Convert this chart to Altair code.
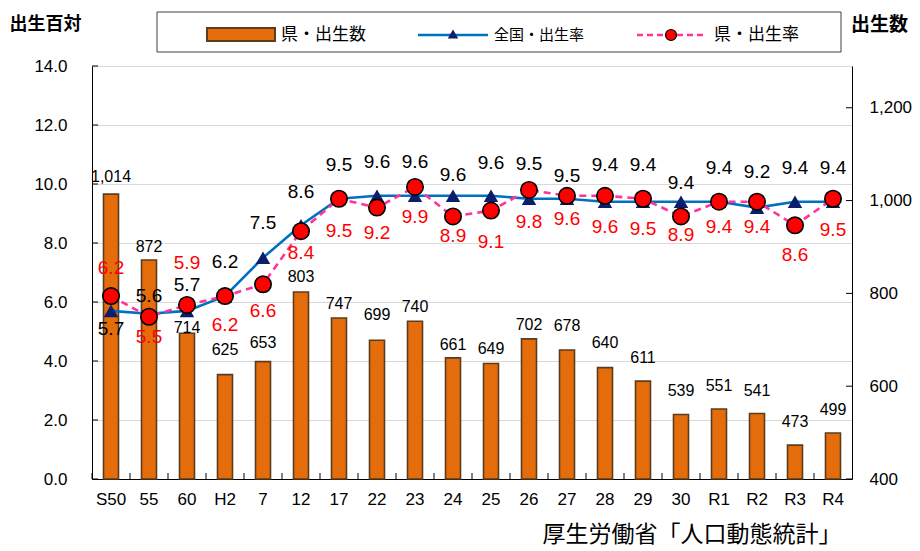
import altair as alt
import pandas as pd

# ---- data ----
categories = ["S50", "55", "60", "H2", "7", "12", "17", "22", "23", "24",
              "25", "26", "27", "28", "29", "30", "R1", "R2", "R3", "R4"]
births = [1014, 872, 714, 625, 653, 803, 747, 699, 740, 661,
          649, 702, 678, 640, 611, 539, 551, 541, 473, 499]
national_rate = [5.7, 5.6, 5.7, 6.2, 7.5, 8.6, 9.5, 9.6, 9.6, 9.6,
                 9.6, 9.5, 9.5, 9.4, 9.4, 9.4, 9.4, 9.2, 9.4, 9.4]
pref_rate = [6.2, 5.5, 5.9, 6.2, 6.6, 8.4, 9.5, 9.2, 9.9, 8.9,
             9.1, 9.8, 9.6, 9.6, 9.5, 8.9, 9.4, 9.4, 8.6, 9.5]

left_ticks = [0, 2, 4, 6, 8, 10, 12, 14]
right_ticks = [400, 600, 800, 1000, 1200]

# ---- label placement (pixel offsets of data labels, style only) ----
bar_label_dy = [-17, -13, -5, -25, -19, -15, -14, -25, -14, -13,
                -14, -14, -24, -25, -23, -23, -23, -23, -23, -23]
nat_label_dy = [18, -18, -26, -34, -35, -33, -34, -34, -34, -21,
                -33, -35, -23, -37, -37, -19, -34, -36, -34, -34]
pref_label_dy = [-28, 20, -42, 29, 27, 22, 32, 25, 30, 20,
                 31, 32, 23, 31, 30, 19, 25, 25, 30, 31]

W, H = 760, 413
L_DOM = [0, 14]
R_DOM = [400, 1290]

df = pd.DataFrame({
    "cat": categories,
    "births": births,
    "nat": national_rate,
    "pref": pref_rate,
    "bdy": bar_label_dy,
    "ndy": nat_label_dy,
    "pdy": pref_label_dy,
})
df["births_lbl"] = [f"{v:,}" for v in births]
df["nat_lbl"] = [f"{v:.1f}" for v in national_rate]
df["pref_lbl"] = [f"{v:.1f}" for v in pref_rate]

NUM_FONT = "Liberation Sans"
JP_FONT = "Noto Sans CJK JP"
ORANGE = "#E46C0A"
BAR_EDGE = "#5A3D20"
BLUE = "#0070C0"
NAVY = "#0B1E6B"
PINK = "#FF3399"
RED = "#FF0000"

l_unit = (L_DOM[1] - L_DOM[0]) / H
r_unit = (R_DOM[1] - R_DOM[0]) / H

base = alt.Chart(df).transform_calculate(
    b_ly=f"datum.births - datum.bdy * {r_unit}",
    n_ly=f"datum.nat - datum.ndy * {l_unit}",
    p_ly=f"datum.pref - datum.pdy * {l_unit}",
)

x_axis = alt.Axis(title=None, labelAngle=0, ticks=False, domainColor="black",
                  labelFont=NUM_FONT, labelFontSize=17, labelColor="black",
                  labelPadding=12)
X = alt.X("cat:N", sort=categories,
          scale=alt.Scale(paddingInner=0, paddingOuter=0), axis=x_axis)

r_scale = alt.Scale(domain=R_DOM, zero=False, nice=False)
r_axis = alt.Axis(orient="right", values=right_ticks, format=",.0f", grid=False,
                  ticks=False, domainColor="black",
                  labelFont=NUM_FONT, labelFontSize=17, labelColor="black",
                  labelPadding=17,
                  title="出生数", titleAngle=0, titleX=27, titleY=-42,
                  titleAlign="center", titleBaseline="middle",
                  titleFont=JP_FONT, titleFontSize=19, titleFontWeight="bold",
                  titleColor="black")
l_scale = alt.Scale(domain=L_DOM, nice=False)
l_axis = alt.Axis(orient="left", values=left_ticks, format=".1f", grid=True,
                  gridColor="#D9D9D9", ticks=False, domainColor="black",
                  labelFont=NUM_FONT, labelFontSize=17, labelColor="black",
                  labelPadding=25,
                  title="出生百対", titleAngle=0, titleX=-47, titleY=-42,
                  titleAlign="center", titleBaseline="middle",
                  titleFont=JP_FONT, titleFontSize=18, titleFontWeight="bold",
                  titleColor="black")


def RY(field):
    return alt.Y(field, type="quantitative", scale=r_scale, axis=r_axis)


def LY(field):
    return alt.Y(field, type="quantitative", scale=l_scale, axis=l_axis)


# ---- right axis layer: births bars ----
bars = base.mark_bar(size=15, color=ORANGE, stroke=BAR_EDGE, strokeWidth=1.6).encode(
    x=X, y=RY("births"), y2=alt.datum(400),
)
bar_labels = base.mark_text(font=NUM_FONT, fontSize=16, color="black", baseline="middle").encode(
    x=X, y=RY("b_ly"), text="births_lbl:N",
)
right_tick_marks = alt.Chart(pd.DataFrame({"births": right_ticks})).mark_rule(
    color="black", strokeWidth=1).encode(
    y=RY("births"), x=alt.value(W - 6), x2=alt.value(W),
)
right_layer = alt.layer(bars, bar_labels, right_tick_marks)

# ---- left axis layer: birth rates ----
nat_line = base.mark_line(color=BLUE, strokeWidth=2.6).encode(x=X, y=LY("nat"))
nat_pts = base.mark_point(shape="triangle-up", filled=True, color=NAVY, size=210,
                          opacity=1).encode(x=X, y=LY("nat"))
pref_line = base.mark_line(color=PINK, strokeWidth=2.6, strokeDash=[7, 5]).encode(
    x=X, y=LY("pref"))
pref_pts = base.mark_point(shape="circle", filled=True, fill=RED, stroke="black",
                           strokeWidth=1.6, size=270, opacity=1).encode(x=X, y=LY("pref"))
nat_labels = base.mark_text(font=NUM_FONT, fontSize=19, color="black",
                            baseline="middle").encode(x=X, y=LY("n_ly"), text="nat_lbl:N")
pref_labels = base.mark_text(font=NUM_FONT, fontSize=19, color=RED,
                             baseline="middle").encode(x=X, y=LY("p_ly"), text="pref_lbl:N")
left_tick_marks = alt.Chart(pd.DataFrame({"nat": left_ticks})).mark_rule(
    color="black", strokeWidth=1).encode(
    y=LY("nat"), x=alt.value(0), x2=alt.value(6),
)
xticks = alt.Chart(df).mark_rule(color="black", strokeWidth=1).encode(
    x=alt.X("cat:N", sort=categories, bandPosition=0, axis=x_axis,
            scale=alt.Scale(paddingInner=0, paddingOuter=0)),
    y=alt.value(H - 6), y2=alt.value(H),
)
left_layer = alt.layer(nat_line, pref_line, nat_pts, pref_pts, nat_labels, pref_labels,
                       left_tick_marks)

# ---- legend box and source note ----
one = alt.Chart(pd.DataFrame({"k": [0]}))
leg_box = one.mark_rect(fill="white", stroke="#404040", strokeWidth=1).encode(
    x=alt.value(65), x2=alt.value(749), y=alt.value(-54), y2=alt.value(-14))
leg_bar = one.mark_rect(fill=ORANGE, stroke=BAR_EDGE, strokeWidth=2).encode(
    x=alt.value(115), x2=alt.value(183), y=alt.value(-38), y2=alt.value(-25))
leg_t1 = one.mark_text(text="県・出生数", font=JP_FONT, fontSize=17, align="left",
                       baseline="middle", color="black").encode(
    x=alt.value(189), y=alt.value(-31))
leg_line1 = one.mark_rule(color=BLUE, strokeWidth=2.6).encode(
    x=alt.value(326), x2=alt.value(396), y=alt.value(-31))
leg_tri = one.mark_point(shape="triangle-up", filled=True, color=NAVY, size=110,
                         opacity=1).encode(x=alt.value(361), y=alt.value(-32))
leg_t2 = one.mark_text(text="全国・出生率", font=JP_FONT, fontSize=15, align="left",
                       baseline="middle", color="black").encode(
    x=alt.value(402), y=alt.value(-31))
leg_line2 = one.mark_rule(color=PINK, strokeWidth=2.6, strokeDash=[6, 4]).encode(
    x=alt.value(545), x2=alt.value(615), y=alt.value(-31))
leg_circ = one.mark_point(shape="circle", filled=True, fill=RED, stroke="black",
                          strokeWidth=1.2, size=120, opacity=1).encode(
    x=alt.value(579), y=alt.value(-31))
leg_t3 = one.mark_text(text="県・出生率", font=JP_FONT, fontSize=17, align="left",
                       baseline="middle", color="black").encode(
    x=alt.value(622), y=alt.value(-31))
source = one.mark_text(text="厚生労働省「人口動態統計」", font=JP_FONT, fontSize=23,
                       align="center", baseline="middle", color="black").encode(
    x=alt.value(600), y=alt.value(469))
legend_layer = alt.layer(leg_box, leg_bar, leg_t1, leg_line1, leg_tri, leg_t2,
                         leg_line2, leg_circ, leg_t3, source)

chart = alt.layer(right_layer, xticks, left_layer, legend_layer).resolve_scale(
    y="independent"
).properties(
    width=W, height=H,
    autosize=alt.AutoSizeParams(type="none"),
    padding={"left": 84, "top": 58, "right": 60, "bottom": 74},
    background="white",
).configure_view(strokeWidth=0)

chart.save("out.html", embed_options={"renderer": "svg", "actions": False})
